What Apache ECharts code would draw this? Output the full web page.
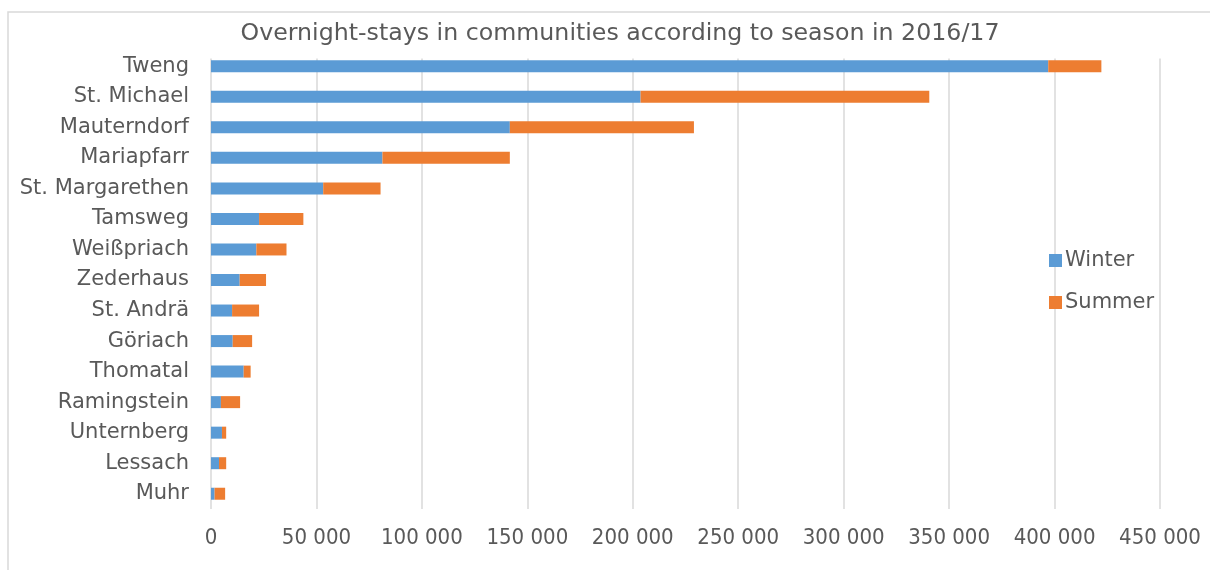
<!DOCTYPE html>
<html><head><meta charset="utf-8">
<script src="https://cdn.jsdelivr.net/npm/echarts@6/dist/echarts.min.js"></script>
<style>html,body{margin:0;padding:0;background:#fff}#c{width:1210px;height:570px}</style>
</head><body><div id="c"></div>
<script>
const categories = ["Tweng","St. Michael","Mauterndorf","Mariapfarr","St. Margarethen","Tamsweg","Weißpriach","Zederhaus","St. Andrä","Göriach","Thomatal","Ramingstein","Unternberg","Lessach","Muhr"];
const winter = [397000,203700,141700,81300,53200,22800,21500,13600,10000,10300,15500,4700,5200,3800,1700];
const summer = [25200,136900,87300,60400,27200,21000,14300,12500,12800,9200,3300,9100,2000,3400,5000];
const xTicks = [0,50000,100000,150000,200000,250000,300000,350000,400000,450000];

const FONT = "DejaVu Sans";
const FONT_C = "DejaVu Sans Condensed";
const fmt = v => String(v).replace(/\B(?=(\d{3})+(?!\d))/g, " ");
const chart = echarts.init(document.getElementById('c'), null, {renderer:'canvas'});
chart.setOption({
  animation:false,
  backgroundColor:'#fff',
  textStyle:{fontFamily:FONT},
  graphic:[
    {type:'rect',shape:{x:8,y:12,width:1220,height:580},style:{fill:'none',stroke:'#d9d9d9',lineWidth:1.5},silent:true},
    {type:'rect',shape:{x:205,y:48,width:960,height:10.5},style:{fill:'#fff'},silent:true,z:1}
  ],
  title:{text:"Overnight-stays in communities according to season in 2016/17",left:615,textAlign:'center',top:17,
    textStyle:{fontFamily:FONT,fontSize:23.7,fontWeight:'normal',color:'#595959'}},
  legend:{orient:'vertical',left:1044,top:245,itemWidth:13,itemHeight:13,itemGap:21,icon:'rect',
    textStyle:{fontFamily:FONT,fontSize:21,color:'#595959',padding:[0,0,0,-2]},data:['Winter','Summer']},
  grid:{left:211,right:50,top:51,bottom:61,containLabel:false},
  xAxis:{type:'value',min:xTicks[0],max:xTicks[xTicks.length-1],interval:xTicks[1]-xTicks[0],
    axisLine:{show:false},axisTick:{show:false},
    splitLine:{lineStyle:{color:'#d9d9d9',width:1.5}},
    axisLabel:{fontFamily:FONT_C,fontSize:22,color:'#595959',margin:18,formatter:fmt}},
  yAxis:{type:'category',data:categories,inverse:true,
    axisLine:{show:false},axisTick:{show:false},
    axisLabel:{fontFamily:FONT,fontSize:21,color:'#595959',margin:22}},
  series:[
    {name:'Winter',type:'bar',stack:'t',data:winter,barWidth:12,z:3,itemStyle:{color:'#5b9bd5'}},
    {name:'Summer',type:'bar',stack:'t',data:summer,barWidth:12,z:3,itemStyle:{color:'#ed7d31'}}
  ]
});
</script></body></html>
